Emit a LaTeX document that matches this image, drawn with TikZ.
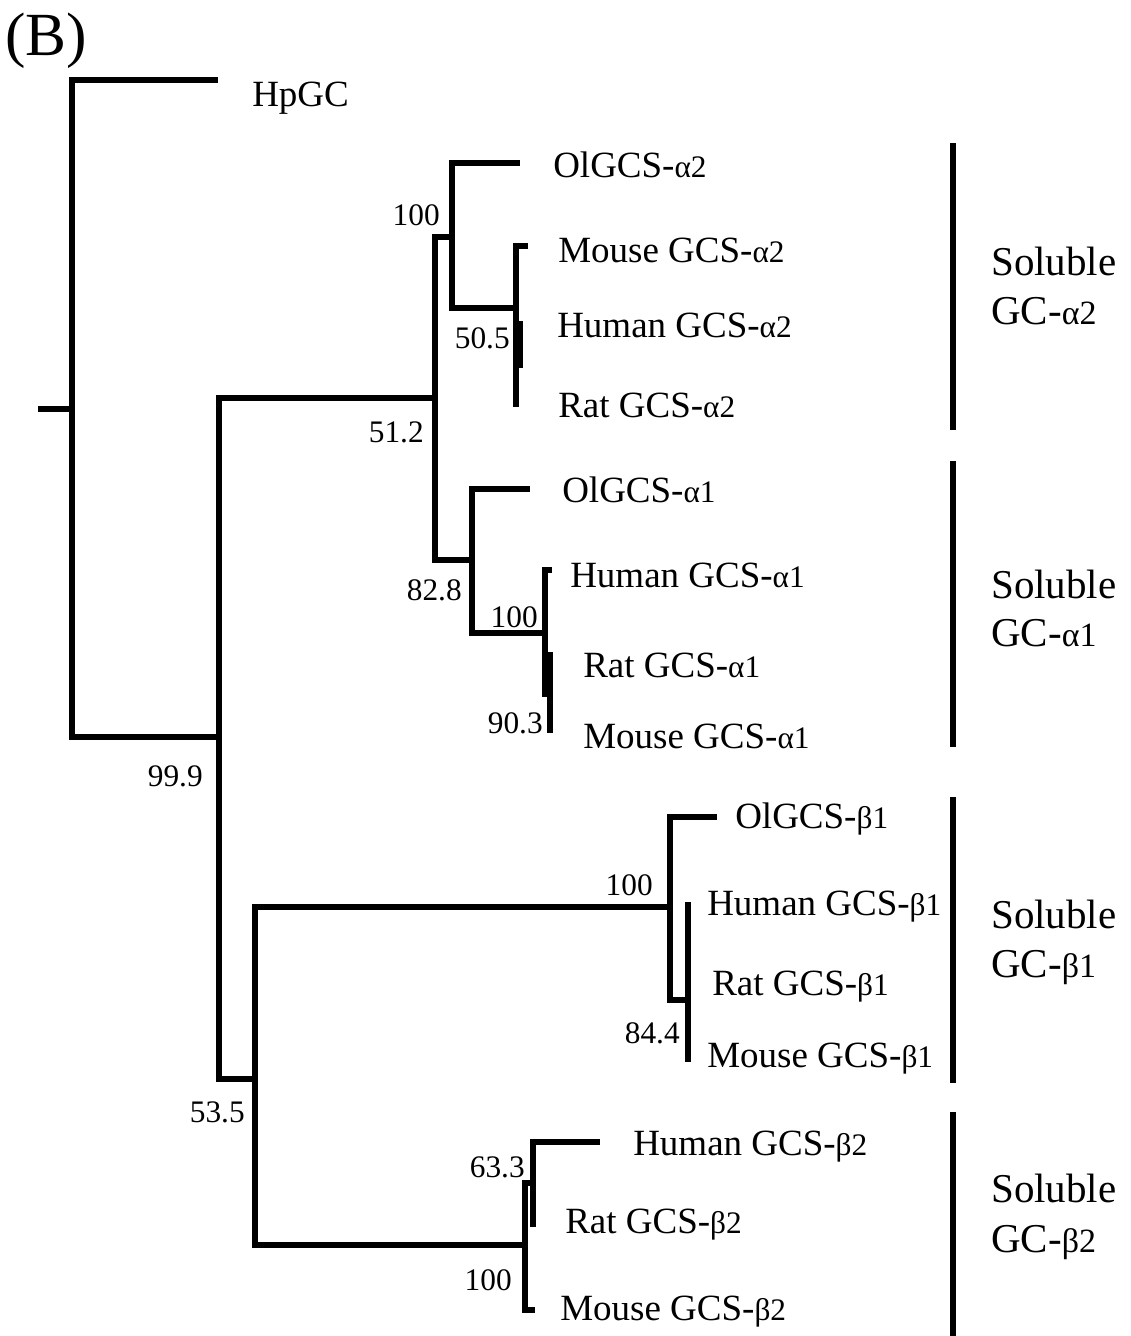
\documentclass[tikz,border=0pt]{standalone}
\usepackage{fontspec}
\setmainfont{Liberation Serif}
\newcommand\gk[2]{{\fontsize{23.5}{24}\selectfont #1#2}}
\newcommand\gkg[2]{{\fontsize{25.5}{26}\selectfont #1#2}}
\begin{document}
\begin{tikzpicture}[x=0.75pt,y=-0.75pt,
  br/.style={line width=4pt, line join=miter, line cap=butt},
  grpbar/.style={line width=4pt, line cap=butt},
  taxon/.style={anchor=base west, inner sep=0pt, font=\fontsize{27.75}{30}\selectfont},
  boot/.style={anchor=base east, inner sep=0pt, font=\fontsize{23.5}{25}\selectfont},
  glab/.style={anchor=base west, inner sep=0pt, font=\fontsize{30.75}{36}\selectfont}]
\useasboundingbox (0,0) rectangle (1131,1336);

% panel label
\node[anchor=base west, inner sep=0pt, font=\fontsize{46}{50}\selectfont] (panel) at (5,55) {(B)};

% ---- coordinates (internal nodes and tips) ----
\coordinate (root) at (38,409);
\coordinate (A) at (72,409);
\coordinate (tHp) at (218,80);
\coordinate (B) at (219,737);
\coordinate (C) at (435,398);
\coordinate (D) at (255,1079);
\coordinate (E) at (452,237);
\coordinate (F) at (472,560);
\coordinate (tOa2) at (520,163);
\coordinate (G) at (516,308);
\coordinate (tMa2) at (528,246);
\coordinate (tRa2) at (516,407);
\coordinate (H1) at (516,324);
\coordinate (H2) at (520,324);
\coordinate (H3) at (520,368);
\coordinate (tOa1) at (530,489);
\coordinate (I) at (545,633);
\coordinate (tHa1) at (552,570);
\coordinate (Ib) at (545,697);
\coordinate (J1) at (545,655);
\coordinate (J2) at (550,655);
\coordinate (tMa1) at (550,733);
\coordinate (K) at (670,907);
\coordinate (L) at (525,1245);
\coordinate (tOb1) at (717,817);
\coordinate (M) at (688,1000);
\coordinate (Mt) at (688,902);
\coordinate (Mb) at (688,1062);
\coordinate (N) at (533,1183);
\coordinate (tMb2) at (535,1310);
\coordinate (tHb2) at (600,1142);
\coordinate (Nb) at (533,1227);

% ---- branches ----
\draw[br] (root) -- (A);
\draw[br] (tHp) -| (A) |- (B);
\draw[br] (C) -| (B) |- (D);
\draw[br] (E) -| (C) |- (F);
\draw[br] (tOa2) -| (E) |- (G);
\draw[br] (tMa2) -| (G) -- (tRa2);
\draw[br] (H1) -- (H2) -- (H3);
\draw[br] (tOa1) -| (F) |- (I);
\draw[br] (tHa1) -| (I) -- (Ib);
\draw[br] (J1) -- (J2) -- (tMa1);
\draw[br] (K) -| (D) |- (L);
\draw[br] (tOb1) -| (K) |- (M);
\draw[br] (Mt) -- (Mb);
\draw[br] (N) -| (L) |- (tMb2);
\draw[br] (tHb2) -| (N) -- (Nb);

% ---- bootstrap values ----
\node[boot] (b1) at (440,225) {100};
\node[boot] (b2) at (510,348) {50.5};
\node[boot] (b3) at (424,442) {51.2};
\node[boot] (b4) at (462,600) {82.8};
\node[boot] (b5) at (538,627) {100};
\node[boot] (b6) at (543,733) {90.3};
\node[boot] (b7) at (203,786) {99.9};
\node[boot] (b8) at (653,895) {100};
\node[boot] (b9) at (680,1043) {84.4};
\node[boot] (b10) at (245,1122) {53.5};
\node[boot] (b11) at (525,1177) {63.3};
\node[boot] (b12) at (512,1290) {100};

% ---- taxa ----
\node[taxon] (lHp) at (252,106) {HpGC};
\node[taxon] (lOa2) at (553,177) {OlGCS-\gk{α}{2}};
\node[taxon] (lMa2) at (558,262) {Mouse GCS-\gk{α}{2}};
\node[taxon] (lHa2) at (557,337) {Human GCS-\gk{α}{2}};
\node[taxon] (lRa2) at (558,417) {Rat GCS-\gk{α}{2}};
\node[taxon] (lOa1) at (562,502) {OlGCS-\gk{α}{1}};
\node[taxon] (lHa1) at (570,587) {Human GCS-\gk{α}{1}};
\node[taxon] (lRa1) at (583,677) {Rat GCS-\gk{α}{1}};
\node[taxon] (lMa1) at (583,748) {Mouse GCS-\gk{α}{1}};
\node[taxon] (lOb1) at (735,828) {OlGCS-\gk{β}{1}};
\node[taxon] (lHb1) at (707,915) {Human GCS-\gk{β}{1}};
\node[taxon] (lRb1) at (712,995) {Rat GCS-\gk{β}{1}};
\node[taxon] (lMb1) at (707,1067) {Mouse GCS-\gk{β}{1}};
\node[taxon] (lHb2) at (633,1155) {Human GCS-\gk{β}{2}};
\node[taxon] (lRb2) at (565,1233) {Rat GCS-\gk{β}{2}};
\node[taxon] (lMb2) at (560,1320) {Mouse GCS-\gk{β}{2}};

% ---- group bars ----
\coordinate (ga2t) at (953,143); \coordinate (ga2b) at (953,430);
\coordinate (ga1t) at (953,461); \coordinate (ga1b) at (953,747);
\coordinate (gb1t) at (953,797); \coordinate (gb1b) at (953,1083);
\coordinate (gb2t) at (953,1112); \coordinate (gb2b) at (953,1336);
\draw[grpbar] (ga2t) -- (ga2b);
\draw[grpbar] (ga1t) -- (ga1b);
\draw[grpbar] (gb1t) -- (gb1b);
\draw[grpbar] (gb2t) -- (gb2b);

% ---- group labels ----
\node[glab] (sa2) at (991,275) {Soluble};
\node[glab] (ca2) at (991,324) {GC-\gkg{α}{2}};
\node[glab] (sa1) at (991,598) {Soluble};
\node[glab] (ca1) at (991,646) {GC-\gkg{α}{1}};
\node[glab] (sb1) at (991,928) {Soluble};
\node[glab] (cb1) at (991,977) {GC-\gkg{β}{1}};
\node[glab] (sb2) at (991,1202) {Soluble};
\node[glab] (cb2) at (991,1252) {GC-\gkg{β}{2}};
\end{tikzpicture}
\end{document}
